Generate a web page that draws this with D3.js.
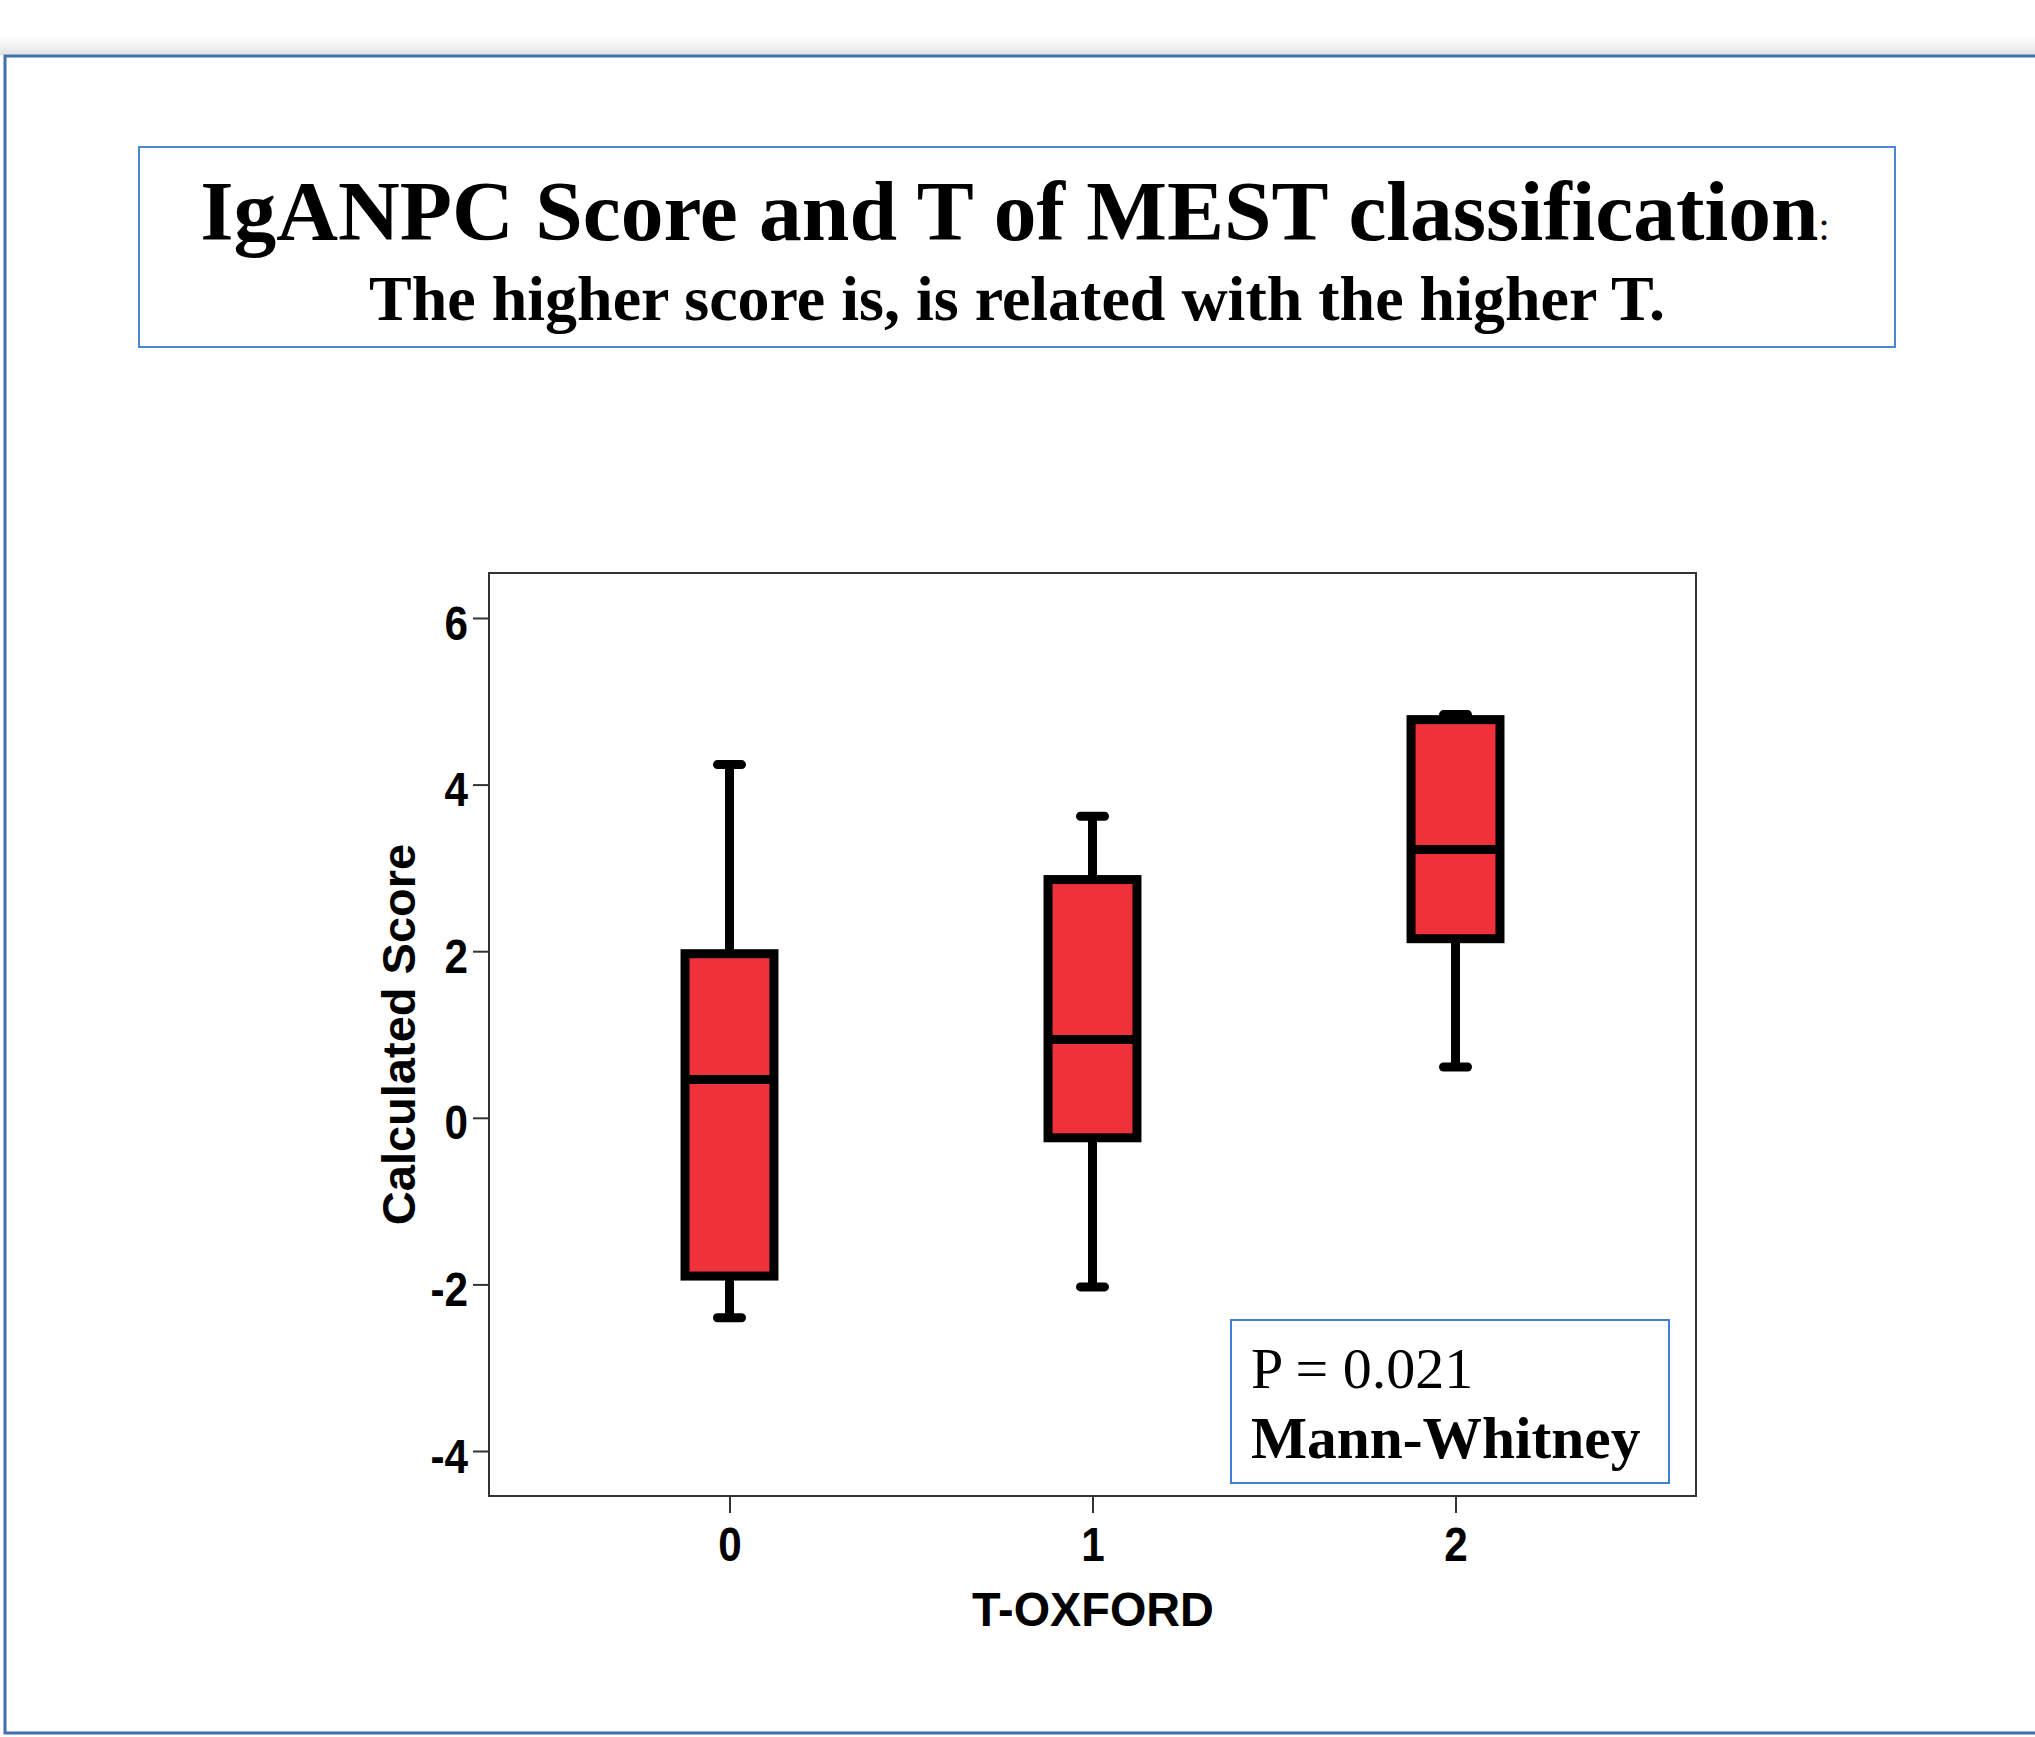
<!DOCTYPE html>
<html>
<head>
<meta charset="utf-8">
<script src="https://cdn.jsdelivr.net/npm/d3@7"></script>
<style>
  body { margin: 0; background: #fff; }
  svg { display: block; }
</style>
</head>
<body>
<div id="chart"></div>
<script>
// box plot values
const categories = ["0", "1", "2"];
const whiskerLow = [-2.40, -2.03, 0.61];
const q1 = [-1.90, -0.24, 2.15];
const medians = [0.46, 0.94, 3.22];
const q3 = [1.97, 2.86, 4.78];
const whiskerHigh = [4.24, 3.62, 4.84];
const yTicks = [-4, -2, 0, 2, 4, 6];

const titleText = "IgANPC Score and T of MEST classification";
const subtitleText = "The higher score is, is related with the higher T.";
const xLabel = "T-OXFORD";
const yLabel = "Calculated Score";

const w = 2035, h = 1737;
const plot = { left: 489, right: 1696, top: 573, bottom: 1496 };

const svg = d3.select("#chart").append("svg")
  .attr("width", w)
  .attr("height", h);

// squeeze text horizontally, the spss fonts are narrow
function narrow(sel, k) {
  sel.each(function() {
    const len = this.getComputedTextLength();
    d3.select(this)
      .attr("textLength", len * k)
      .attr("lengthAdjust", "spacingAndGlyphs");
  });
}

// page frame with the soft shadow along the top
const defs = svg.append("defs");
const grad = defs.append("linearGradient")
  .attr("id", "shade").attr("x1", 0).attr("y1", 0).attr("x2", 0).attr("y2", 1);
grad.append("stop").attr("offset", "0%").attr("stop-color", "#ffffff");
grad.append("stop").attr("offset", "100%").attr("stop-color", "#e4e4e4");
svg.append("rect")
  .attr("x", 0).attr("y", 36).attr("width", w).attr("height", 19)
  .attr("fill", "url(#shade)");
svg.append("path")
  .attr("d", "M" + (w + 10) + ",56 L5,56 L5,1733 L" + (w + 10) + ",1733")
  .attr("fill", "none")
  .attr("stroke", "#4170ad")
  .attr("stroke-width", 3);

// title box
svg.append("rect")
  .attr("x", 139).attr("y", 147).attr("width", 1756).attr("height", 200)
  .attr("fill", "#fff")
  .attr("stroke", "#4a86d2")
  .attr("stroke-width", 2);

const title = svg.append("text")
  .attr("x", 1015).attr("y", 240)
  .attr("text-anchor", "middle")
  .style("font-family", "'Liberation Serif', 'Times New Roman', serif")
  .style("font-weight", "bold")
  .style("font-size", "85.5px");
title.append("tspan").text(titleText);
title.append("tspan")
  .style("font-size", "40px")
  .style("font-weight", "normal")
  .text(":");

svg.append("text")
  .attr("x", 1017).attr("y", 320)
  .attr("text-anchor", "middle")
  .style("font-family", "'Liberation Serif', 'Times New Roman', serif")
  .style("font-weight", "bold")
  .style("font-size", "64px")
  .text(subtitleText);

// scales
const xScale = d3.scalePoint()
  .domain(categories)
  .range([plot.left, plot.right])
  .padding(0.6625);

const yScale = d3.scaleLinear()
  .domain([-4.54, 6.54])
  .range([plot.bottom, plot.top]);

const boxWidth = xScale.step() * 0.245;
const capWidth = 24;
const thick = 9;

// frame of the plot
svg.append("rect")
  .attr("x", plot.left).attr("y", plot.top)
  .attr("width", plot.right - plot.left)
  .attr("height", plot.bottom - plot.top)
  .attr("fill", "#fff")
  .attr("stroke", "#333")
  .attr("stroke-width", 2);

// axes
const yAxis = svg.append("g")
  .attr("transform", "translate(" + plot.left + ",0)")
  .call(d3.axisLeft(yScale).tickValues(yTicks).tickFormat(d => String(d)).tickSize(16).tickPadding(5));
const xAxis = svg.append("g")
  .attr("transform", "translate(0," + plot.bottom + ")")
  .call(d3.axisBottom(xScale).tickSize(17).tickPadding(14));

[yAxis, xAxis].forEach(function(g) {
  g.select(".domain").remove();
  g.selectAll("line").attr("stroke", "#333").attr("stroke-width", 2);
  g.selectAll("text")
    .attr("fill", "#000")
    .style("font-family", "'Liberation Sans', Arial, sans-serif")
    .style("font-weight", "bold")
    .style("font-size", "48px")
    .call(narrow, 0.88);
});
yAxis.selectAll("text").attr("dy", "0.44em");

// axis titles
svg.append("text")
  .attr("x", 1093).attr("y", 1626)
  .attr("text-anchor", "middle")
  .style("font-family", "'Liberation Sans', Arial, sans-serif")
  .style("font-weight", "bold")
  .style("font-size", "48px")
  .text(xLabel)
  .call(narrow, 0.975);

svg.append("text")
  .attr("transform", "translate(415," + ((plot.top + plot.bottom) / 2) + ") rotate(-90)")
  .attr("text-anchor", "middle")
  .style("font-family", "'Liberation Sans', Arial, sans-serif")
  .style("font-weight", "bold")
  .style("font-size", "47px")
  .text(yLabel);

// boxes
const boxes = svg.selectAll("g.box")
  .data(categories)
  .enter()
  .append("g")
  .attr("class", "box");

// whiskers
boxes.append("line")
  .attr("x1", d => xScale(d)).attr("x2", d => xScale(d))
  .attr("y1", (d, i) => yScale(q3[i])).attr("y2", (d, i) => yScale(whiskerHigh[i]))
  .attr("stroke", "#000").attr("stroke-width", thick);
boxes.append("line")
  .attr("x1", d => xScale(d)).attr("x2", d => xScale(d))
  .attr("y1", (d, i) => yScale(q1[i])).attr("y2", (d, i) => yScale(whiskerLow[i]))
  .attr("stroke", "#000").attr("stroke-width", thick);

// caps
[whiskerHigh, whiskerLow].forEach(function(arr) {
  boxes.append("line")
    .attr("x1", d => xScale(d) - capWidth / 2).attr("x2", d => xScale(d) + capWidth / 2)
    .attr("y1", (d, i) => yScale(arr[i])).attr("y2", (d, i) => yScale(arr[i]))
    .attr("stroke", "#000").attr("stroke-width", thick)
    .attr("stroke-linecap", "round");
});

boxes.append("rect")
  .attr("x", d => xScale(d) - boxWidth / 2)
  .attr("y", (d, i) => yScale(q3[i]))
  .attr("width", boxWidth)
  .attr("height", (d, i) => yScale(q1[i]) - yScale(q3[i]))
  .attr("fill", "#ef3139")
  .attr("stroke", "#000")
  .attr("stroke-width", thick);

boxes.append("line")
  .attr("x1", d => xScale(d) - boxWidth / 2).attr("x2", d => xScale(d) + boxWidth / 2)
  .attr("y1", (d, i) => yScale(medians[i])).attr("y2", (d, i) => yScale(medians[i]))
  .attr("stroke", "#000").attr("stroke-width", thick);

// test result box
svg.append("rect")
  .attr("x", 1231).attr("y", 1320).attr("width", 438).attr("height", 163)
  .attr("fill", "#fff")
  .attr("stroke", "#3f7fd6")
  .attr("stroke-width", 2);
svg.append("text")
  .attr("x", 1251).attr("y", 1388)
  .style("font-family", "'Liberation Serif', 'Times New Roman', serif")
  .style("font-size", "58px")
  .text("P = 0.021");
svg.append("text")
  .attr("x", 1251).attr("y", 1458)
  .style("font-family", "'Liberation Serif', 'Times New Roman', serif")
  .style("font-weight", "bold")
  .style("font-size", "59.4px")
  .text("Mann-Whitney");
</script>
</body>
</html>
